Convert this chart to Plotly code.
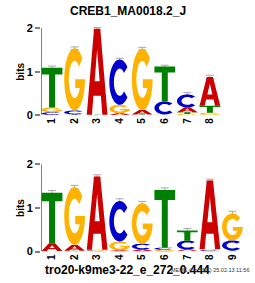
import numpy as np
import plotly.graph_objects as go

# ---------------- data ----------------
top_title = "CREB1_MA0018.2_J"
bottom_title = "tro20-k9me3-22_e_272_0.444"
stamp = "MEME (no SSC) 25.02.13 11:56"

top_positions = [1, 2, 3, 4, 5, 6, 7, 8]
top_A = [0.01, 0.01, 1.97, 0.04, 0.10, 0.01, 0.11, 0.66]
top_C = [0.06, 0.09, 0.005, 1.04, 0.01, 0.30, 0.30, 0.01]
top_G = [0.11, 1.43, 0.005, 0.19, 1.41, 0.01, 0.03, 0.05]
top_T = [0.91, 0.01, 0.005, 0.01, 0.01, 0.80, 0.04, 0.16]
top_err = [0.04, 0.03, 0.03, 0.03, 0.03, 0.03, 0.04, 0.04]

bot_positions = [1, 2, 3, 4, 5, 6, 7, 8, 9]
bot_A = [0.18, 0.13, 1.68, 0.02, 0.04, 0.01, 0.03, 1.57, 0.005]
bot_C = [0.005, 0.01, 0.015, 0.93, 0.13, 0.05, 0.20, 0.02, 0.23]
bot_G = [0.005, 1.33, 0.015, 0.20, 0.93, 0.03, 0.02, 0.03, 0.62]
bot_T = [1.16, 0.01, 0.01, 0.01, 0.01, 1.32, 0.23, 0.01, 0.02]
bot_err = [0.05, 0.04, 0.04, 0.05, 0.04, 0.05, 0.05, 0.03, 0.05]

y_ticks = [0, 1, 2]

COLORS = {"A": "#CC0000", "C": "#0000CC", "G": "#FFB300", "T": "#008000"}


# ---------------- glyph outlines (unit box) ----------------
def arc(cx, cy, rx, ry, a0, a1, n=36):
    a = np.radians(np.linspace(a0, a1, n))
    return list(zip(cx + rx * np.cos(a), cy + ry * np.sin(a)))


def glyph(letter):
    if letter == "T":
        return [[(0, 1), (1, 1), (1, 0.83), (0.645, 0.83), (0.645, 0),
                 (0.355, 0), (0.355, 0.83), (0, 0.83)]]
    if letter == "A":
        outer = [(0, 0), (0.35, 1), (0.65, 1), (1, 0), (0.75, 0), (0.68, 0.22),
                 (0.32, 0.22), (0.25, 0)]
        hole = [(0.38, 0.39), (0.62, 0.39), (0.5, 0.76)]
        return [outer, hole]
    if letter == "C":
        outer = arc(0.5, 0.5, 0.5, 0.5, 42, 318)
        inner = arc(0.5, 0.5, 0.28, 0.30, 318, 42)
        return [outer + inner]
    if letter == "G":
        outer = arc(0.5, 0.5, 0.5, 0.5, 42, 360)
        ang = np.degrees(np.arcsin((0.36 - 0.5) / 0.30)) + 360
        inner = arc(0.5, 0.5, 0.28, 0.30, ang, 42)
        bar = [(1.0, 0.5), (0.53, 0.5), (0.53, 0.36)]
        return [outer + bar + inner]
    return []


def letter_path(letter, xc, y0, h, w=0.92):
    parts = []
    for poly in glyph(letter):
        pts = [(xc - w / 2 + u * w, y0 + v * h) for u, v in poly]
        s = "M" + " L".join(f"{x:.4f},{y:.4f}" for x, y in pts) + " Z"
        parts.append(s)
    return " ".join(parts)


def logo_shapes(positions, A, C, G, T, xref, yref):
    shapes = []
    totals = []
    for i, p in enumerate(positions):
        col = {"A": A[i], "C": C[i], "G": G[i], "T": T[i]}
        base = 0.0
        for letter, h in sorted(col.items(), key=lambda kv: kv[1]):
            if h <= 0:
                continue
            shapes.append(dict(type="path", xref=xref, yref=yref,
                               path=letter_path(letter, p, base, h),
                               fillcolor=COLORS[letter], line=dict(width=0),
                               layer="above"))
            base += h
        totals.append(base)
    return shapes, totals


FONT = "Liberation Sans, Arial, sans-serif"
W, H = 255, 283

# pixel layout
x_left_px, x_right_px = 41, 243.7
x_range = [0.51, 9.5]
y_range = [0, 2.06]
px_per_bit = 45
top_zero_px = 116
bot_zero_px = 256.7


def ydomain(zero_px):
    return [(H - zero_px) / H, (H - (zero_px - y_range[1] * px_per_bit)) / H]


fig = go.Figure()

shapes1, tot1 = logo_shapes(top_positions, top_A, top_C, top_G, top_T, "x", "y")
shapes2, tot2 = logo_shapes(bot_positions, bot_A, bot_C, bot_G, bot_T, "x2", "y2")

for xa, ya, pos, tot, err in [("x", "y", top_positions, tot1, top_err),
                              ("x2", "y2", bot_positions, tot2, bot_err)]:
    fig.add_trace(go.Scatter(
        x=pos, y=tot, xaxis=xa, yaxis=ya, mode="markers",
        marker=dict(size=0.1, color="rgba(0,0,0,0)"),
        error_y=dict(type="data", array=err, color="#A8A8A8", thickness=1, width=4),
        showlegend=False, hoverinfo="skip"))
    # y axis line from 0 to 2 bits
    fig.add_trace(go.Scatter(
        x=[x_range[0], x_range[0]], y=[y_ticks[0], y_ticks[-1]], xaxis=xa, yaxis=ya,
        mode="lines", line=dict(color="#808080", width=2), cliponaxis=False,
        showlegend=False, hoverinfo="skip"))

xdom = [x_left_px / W, x_right_px / W]
common_x = dict(range=x_range, domain=xdom, showgrid=False, zeroline=False,
                showline=False, ticks="", tickangle=-90,
                tickfont=dict(family=FONT, size=10, color="black", weight="bold"))
common_y = dict(range=y_range, showgrid=False, zeroline=False, showline=False,
                tickvals=y_ticks, ticktext=[str(v) for v in y_ticks],
                ticks="outside", ticklen=5, tickwidth=1.5, tickcolor="#808080",
                tickfont=dict(family=FONT, size=11, color="black", weight="bold"))

fig.update_layout(
    width=W, height=H, margin=dict(l=0, r=0, t=0, b=0),
    paper_bgcolor="white", plot_bgcolor="white",
    xaxis=dict(common_x, anchor="y", tickvals=top_positions,
               ticktext=[str(p) for p in top_positions]),
    yaxis=dict(common_y, anchor="x", domain=ydomain(top_zero_px)),
    xaxis2=dict(common_x, anchor="y2", tickvals=bot_positions,
                ticktext=[str(p) for p in bot_positions]),
    yaxis2=dict(common_y, anchor="x2", domain=ydomain(bot_zero_px)),
    shapes=shapes1 + shapes2,
    showlegend=False,
)

ann = [
    dict(text=top_title, x=127.5 / W, y=(H - 8) / H, font=dict(size=12)),
    dict(text=bottom_title, x=127 / W, y=(H - 275.5) / H, font=dict(size=12)),
    dict(text="bits", x=21 / W, y=(H - (top_zero_px - px_per_bit)) / H,
         textangle=-90, font=dict(size=10)),
    dict(text="bits", x=21 / W, y=(H - (bot_zero_px - px_per_bit)) / H,
         textangle=-90, font=dict(size=10)),
]
for a in ann:
    f = dict(family=FONT, color="black", weight="bold")
    f.update(a.pop("font"))
    fig.add_annotation(xref="paper", yref="paper", showarrow=False,
                       xanchor="center", yanchor="middle", font=f, **a)

fig.add_annotation(text=stamp, xref="paper", yref="paper", x=251 / W, y=(H - 276) / H,
                   xanchor="right", yanchor="middle", showarrow=False,
                   font=dict(family=FONT, size=5.5, color="#333333"))

fig.write_html("out.html")
